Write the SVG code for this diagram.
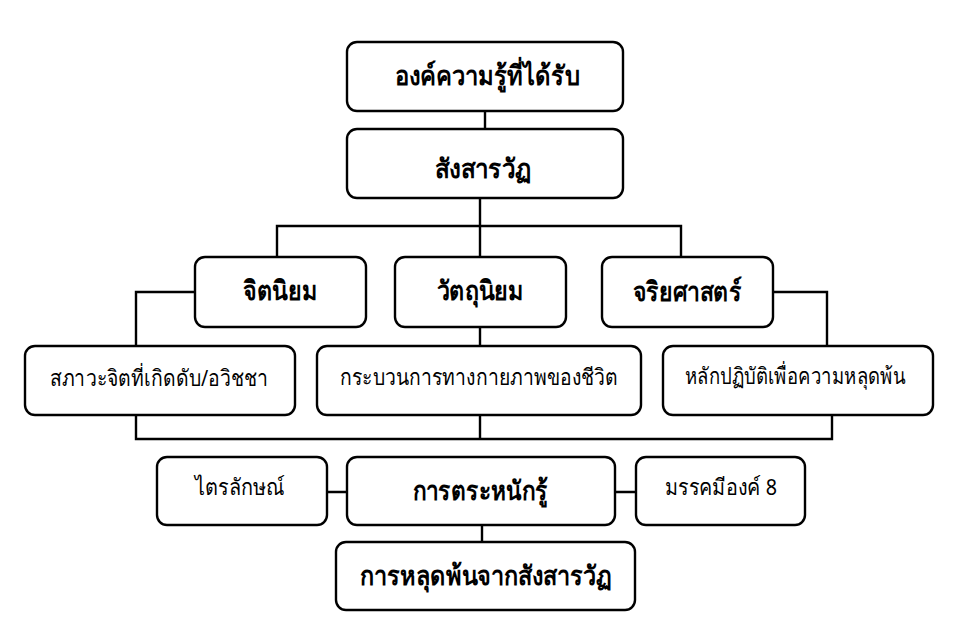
<svg xmlns="http://www.w3.org/2000/svg" width="955" height="620" viewBox="0 0 955 620">
<style>
.box{fill:#fff;stroke:#000;stroke-width:2.4}
.ln{fill:none;stroke:#000;stroke-width:2.4}
.b{font-family:"Noto Sans","DejaVu Sans",sans-serif;font-weight:bold;font-size:27px;text-anchor:middle}
.r{font-family:"Noto Sans","DejaVu Sans",sans-serif;font-size:22.5px;text-anchor:middle}
</style>
<rect width="955" height="620" fill="#fff"/>
<g id="connectors">
<path class="ln" d="M485 110V130"/>
<path class="ln" d="M480 198V226M277 258V226H681V258M480 226V258"/>
<path class="ln" d="M195 292H136V439H832V415M827 347V292H773"/>
<path class="ln" d="M480 326V439"/>
<path class="ln" d="M327 492H347M615 492H636M482 525V542"/>
</g>
<g id="n1"><rect class="box" x="347" y="42" width="276" height="69" rx="10"/><text class="b" x="487" y="85" textLength="185" lengthAdjust="spacingAndGlyphs">องค์ความรู้ที่ได้รับ</text></g>
<g id="n2"><rect class="box" x="347" y="129" width="276" height="69" rx="10"/><text class="b" x="483" y="178" textLength="97" lengthAdjust="spacingAndGlyphs">สังสารวัฏ</text></g>
<g id="n3"><rect class="box" x="195" y="257" width="171" height="70" rx="10"/><text class="b" x="280" y="300" textLength="74" lengthAdjust="spacingAndGlyphs">จิตนิยม</text></g>
<g id="n4"><rect class="box" x="395" y="257" width="171" height="70" rx="10"/><text class="b" x="480" y="300" textLength="87" lengthAdjust="spacingAndGlyphs">วัตถุนิยม</text></g>
<g id="n5"><rect class="box" x="602" y="257" width="171" height="70" rx="10"/><text class="b" x="687" y="301" textLength="109" lengthAdjust="spacingAndGlyphs">จริยศาสตร์</text></g>
<g id="n6"><rect class="box" x="25" y="346" width="270" height="69" rx="10"/><text class="r" x="159" y="386" textLength="219" lengthAdjust="spacingAndGlyphs">สภาวะจิตที่เกิดดับ/อวิชชา</text></g>
<g id="n7"><rect class="box" x="317" y="346" width="324" height="69" rx="10"/><text class="r" x="479" y="385" textLength="278" lengthAdjust="spacingAndGlyphs">กระบวนการทางกายภาพของชีวิต</text></g>
<g id="n8"><rect class="box" x="663" y="346" width="270" height="69" rx="10"/><text class="r" x="795" y="384" textLength="220" lengthAdjust="spacingAndGlyphs">หลักปฏิบัติเพื่อความหลุดพ้น</text></g>
<g id="n9"><rect class="box" x="157" y="457" width="170" height="68" rx="10"/><text class="r" x="240" y="495" textLength="90" lengthAdjust="spacingAndGlyphs">ไตรลักษณ์</text></g>
<g id="n10"><rect class="box" x="347" y="457" width="268" height="68" rx="10"/><text class="b" x="480" y="500" textLength="135" lengthAdjust="spacingAndGlyphs">การตระหนักรู้</text></g>
<g id="n11"><rect class="box" x="636" y="457" width="169" height="68" rx="10"/><text class="r" x="721" y="495" textLength="112" lengthAdjust="spacingAndGlyphs">มรรคมีองค์ 8</text></g>
<g id="n12"><rect class="box" x="336" y="542" width="299" height="68" rx="10"/><text class="b" x="486" y="585" textLength="252" lengthAdjust="spacingAndGlyphs">การหลุดพ้นจากสังสารวัฏ</text></g>
</svg>
